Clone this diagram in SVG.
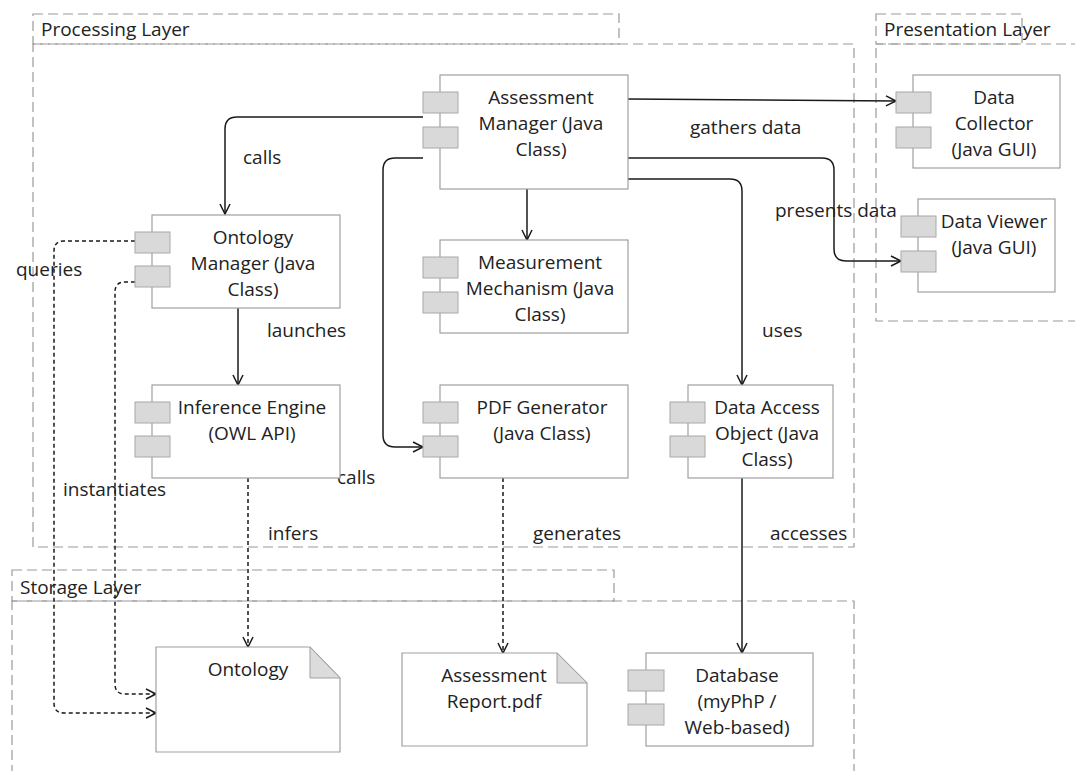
<svg xmlns="http://www.w3.org/2000/svg" width="1075" height="771" viewBox="0 0 1075 771">
<style>
.layer{fill:none;stroke:#9a9a9a;stroke-width:1.2;stroke-dasharray:10 5}
.box{fill:#fff;stroke:#a0a0a0;stroke-width:1.2}
.port{fill:#d9d9d9;stroke:#a8a8a8;stroke-width:1}
.fold{fill:#dcdcdc;stroke:#a0a0a0;stroke-width:1}
text{font-family:"Open Sans","Noto Sans","DejaVu Sans",sans-serif;font-size:19px;fill:#222}
.c{text-anchor:middle}
.ln{fill:none;stroke:#1a1a1a;stroke-width:1.5}
.dash{stroke-dasharray:4 3}
</style>
<defs>
<marker id="arr" markerUnits="userSpaceOnUse" markerWidth="14" markerHeight="14" refX="11" refY="6" orient="auto">
<path d="M1,1 L11,6 L1,11" fill="none" stroke="#1a1a1a" stroke-width="1.5"/>
</marker>
</defs>
<rect width="1075" height="771" fill="#fff"/>
<g id="processing-layer">
<rect class="layer" x="33" y="14" width="586" height="30"/>
<rect class="layer" x="33" y="44" width="821" height="503"/>
<text x="41" y="36">Processing Layer</text>
</g>
<g id="presentation-layer">
<rect class="layer" x="876" y="14" width="146" height="30"/>
<rect class="layer" x="876" y="44" width="210" height="277"/>
<text x="884" y="36">Presentation Layer</text>
</g>
<g id="storage-layer">
<rect class="layer" x="12" y="570" width="602" height="31"/>
<rect class="layer" x="12" y="601" width="842" height="190"/>
<text x="20" y="594">Storage Layer</text>
</g>
<g id="connectors">
<path class="ln" d="M423,117 H237 Q225,117 225,129 V214" marker-end="url(#arr)"/>
<path class="ln" d="M423,158 H395 Q383,158 383,170 V435 Q383,447 395,447 H423" marker-end="url(#arr)"/>
<path class="ln" d="M527,189 V240" marker-end="url(#arr)"/>
<path class="ln" d="M628,99 L896,101" marker-end="url(#arr)"/>
<path class="ln" d="M628,158 H822 Q834,158 834,170 V249 Q834,261 846,261 H901" marker-end="url(#arr)"/>
<path class="ln" d="M628,179 H730 Q742,179 742,191 V385" marker-end="url(#arr)"/>
<path class="ln" d="M238,308 V385" marker-end="url(#arr)"/>
<path class="ln dash" d="M135,241 H64 Q54,241 54,251 V703 Q54,713 64,713 H156" marker-end="url(#arr)"/>
<path class="ln dash" d="M135,282 H125 Q115,282 115,292 V684 Q115,694 125,694 H156" marker-end="url(#arr)"/>
<path class="ln dash" d="M248,478 V647" marker-end="url(#arr)"/>
<path class="ln dash" d="M503,478 V653" marker-end="url(#arr)"/>
<path class="ln" d="M742,478 V653" marker-end="url(#arr)"/>
<text x="243" y="164">calls</text>
<text x="690" y="134">gathers data</text>
<text x="775" y="217">presents data</text>
<text x="762" y="337">uses</text>
<text x="267" y="337">launches</text>
<text x="16" y="276">queries</text>
<text x="63" y="496">instantiates</text>
<text x="337" y="484">calls</text>
<text x="268" y="540">infers</text>
<text x="533" y="540">generates</text>
<text x="770" y="540">accesses</text>
</g>
<g id="assessment-manager">
<rect class="box" x="440" y="75" width="188" height="114"/>
<rect class="port" x="423" y="92" width="35" height="21"/>
<rect class="port" x="423" y="127" width="35" height="21"/>
<text class="c" x="541" y="104">Assessment</text>
<text class="c" x="541" y="130">Manager (Java</text>
<text class="c" x="541" y="156">Class)</text>
</g>
<g id="ontology-manager">
<rect class="box" x="152" y="215" width="188" height="93"/>
<rect class="port" x="135" y="232" width="35" height="21"/>
<rect class="port" x="135" y="266" width="35" height="21"/>
<text class="c" x="253" y="244">Ontology</text>
<text class="c" x="253" y="270">Manager (Java</text>
<text class="c" x="253" y="296">Class)</text>
</g>
<g id="measurement-mechanism">
<rect class="box" x="440" y="240" width="188" height="93"/>
<rect class="port" x="423" y="257" width="35" height="21"/>
<rect class="port" x="423" y="292" width="35" height="21"/>
<text class="c" x="540" y="269">Measurement</text>
<text class="c" x="540" y="295">Mechanism (Java</text>
<text class="c" x="540" y="321">Class)</text>
</g>
<g id="inference-engine">
<rect class="box" x="152" y="385" width="188" height="93"/>
<rect class="port" x="135" y="402" width="35" height="21"/>
<rect class="port" x="135" y="436" width="35" height="21"/>
<text class="c" x="252" y="414">Inference Engine</text>
<text class="c" x="252" y="440">(OWL API)</text>
</g>
<g id="pdf-generator">
<rect class="box" x="440" y="385" width="188" height="93"/>
<rect class="port" x="423" y="402" width="35" height="21"/>
<rect class="port" x="423" y="436" width="35" height="21"/>
<text class="c" x="542" y="414">PDF Generator</text>
<text class="c" x="542" y="440">(Java Class)</text>
</g>
<g id="data-access-object">
<rect class="box" x="688" y="385" width="145" height="93"/>
<rect class="port" x="670" y="402" width="35" height="21"/>
<rect class="port" x="670" y="436" width="35" height="21"/>
<text class="c" x="767" y="414">Data Access</text>
<text class="c" x="767" y="440">Object (Java</text>
<text class="c" x="767" y="466">Class)</text>
</g>
<g id="data-collector">
<rect class="box" x="913" y="75" width="147" height="93"/>
<rect class="port" x="896" y="92" width="35" height="21"/>
<rect class="port" x="896" y="127" width="35" height="21"/>
<text class="c" x="994" y="104">Data</text>
<text class="c" x="994" y="130">Collector</text>
<text class="c" x="994" y="156">(Java GUI)</text>
</g>
<g id="data-viewer">
<rect class="box" x="918" y="199" width="137" height="93"/>
<rect class="port" x="901" y="216" width="35" height="21"/>
<rect class="port" x="901" y="251" width="35" height="21"/>
<text class="c" x="994" y="228">Data Viewer</text>
<text class="c" x="994" y="254">(Java GUI)</text>
</g>
<g id="ontology">
<path class="box" d="M156,647 H310 L340,678 V752 H156 Z"/>
<path class="fold" d="M310,647 V678 H340 Z"/>
<text class="c" x="248" y="676">Ontology</text>
</g>
<g id="assessment-report">
<path class="box" d="M402,653 H557 L587,683 V746 H402 Z"/>
<path class="fold" d="M557,653 V683 H587 Z"/>
<text class="c" x="494" y="682">Assessment</text>
<text class="c" x="494" y="708">Report.pdf</text>
</g>
<g id="database">
<rect class="box" x="646" y="653" width="167" height="93"/>
<rect class="port" x="628" y="670" width="36" height="21"/>
<rect class="port" x="628" y="704" width="36" height="21"/>
<text class="c" x="737" y="682">Database</text>
<text class="c" x="737" y="708">(myPhP /</text>
<text class="c" x="737" y="734">Web-based)</text>
</g>
</svg>
